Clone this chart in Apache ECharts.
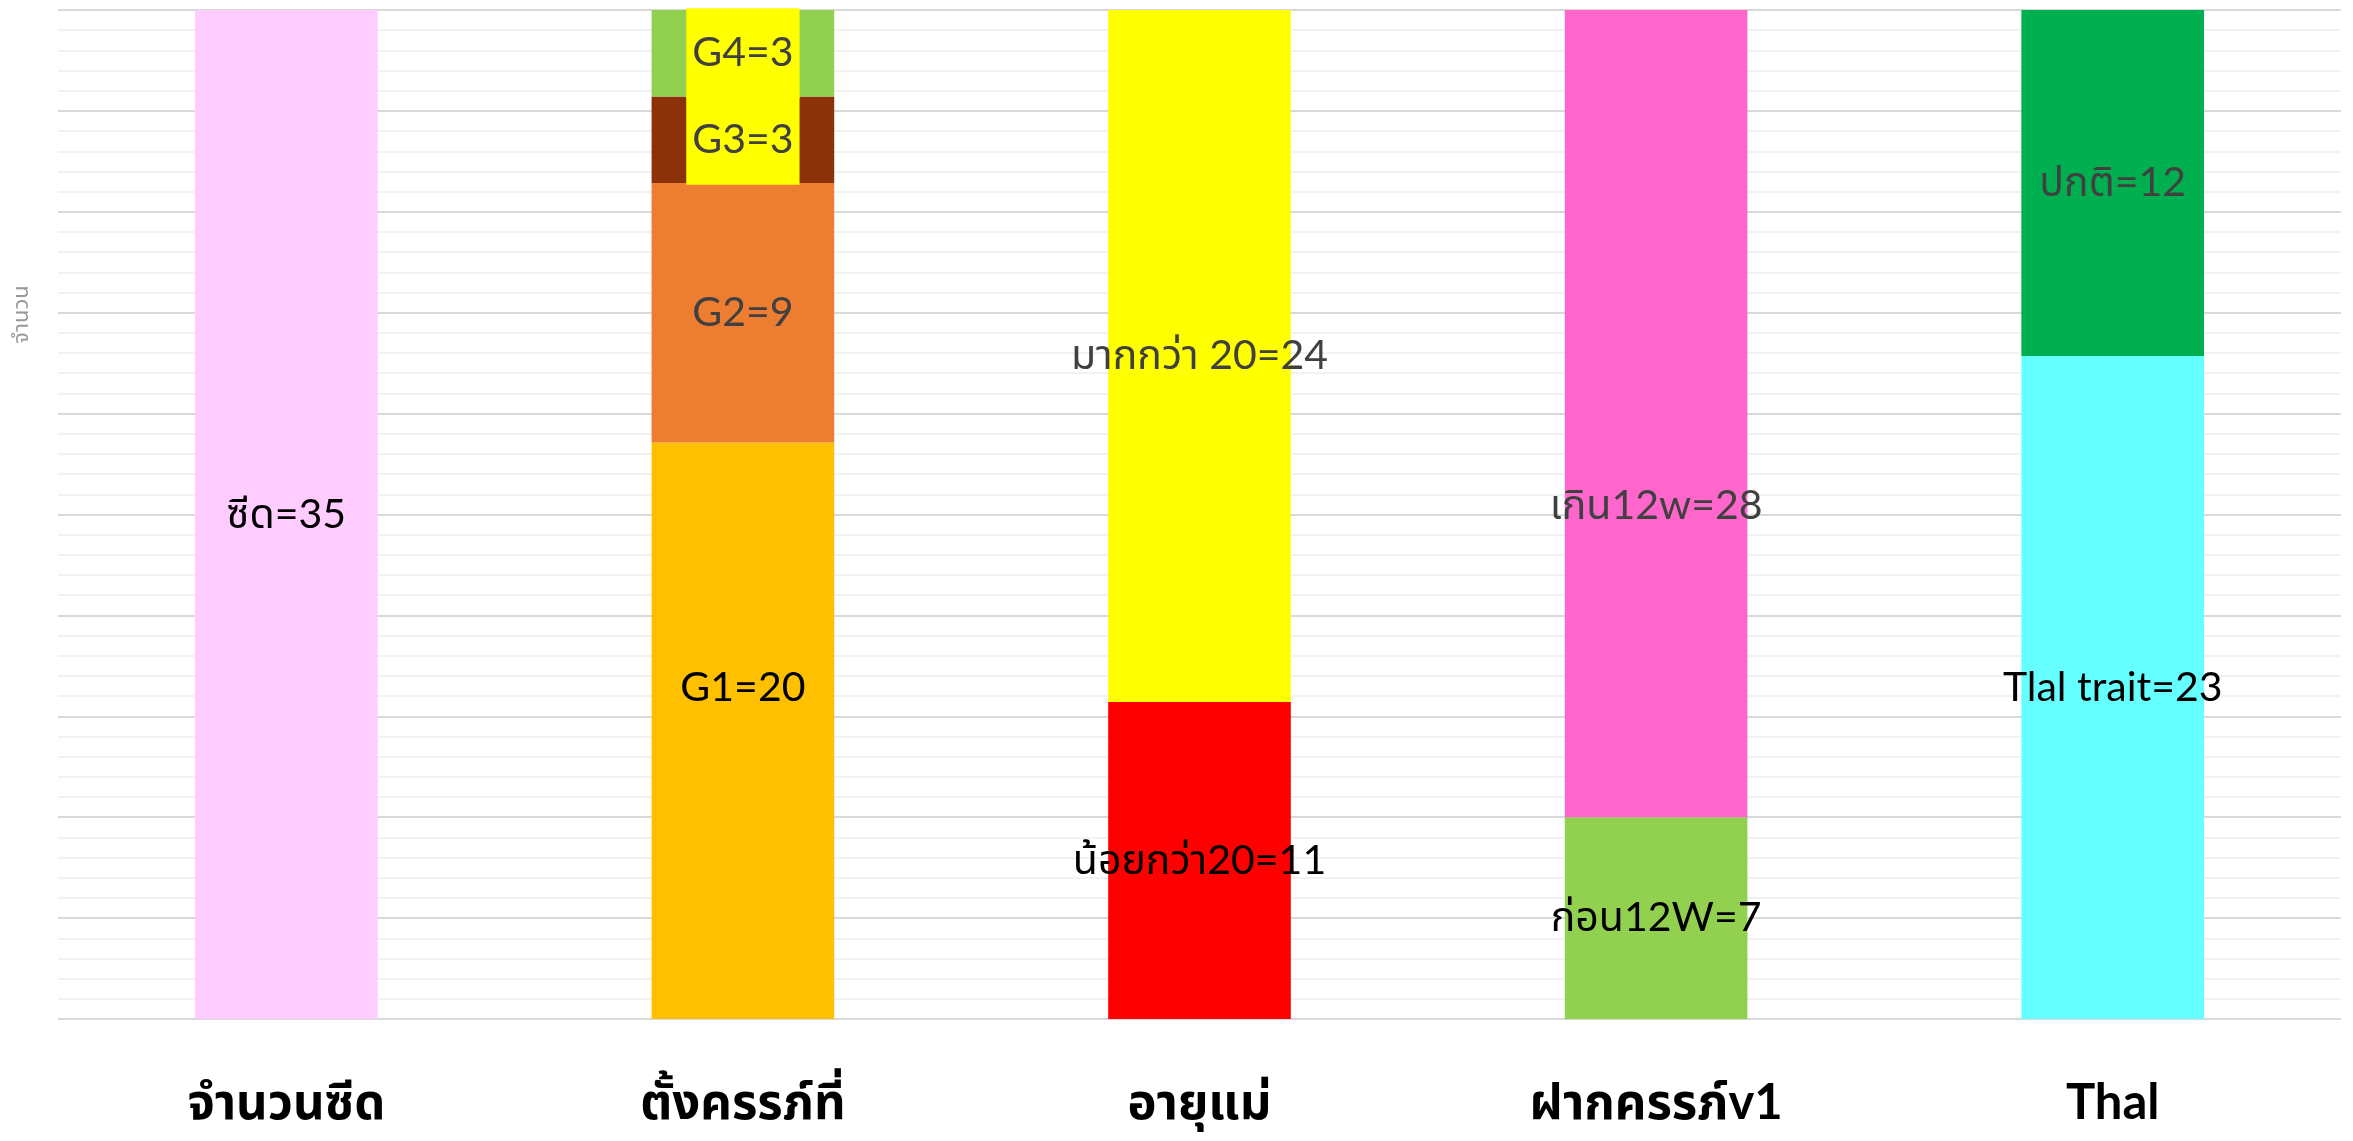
<!DOCTYPE html>
<html>
<head>
<meta charset="utf-8">
<script src="https://cdn.jsdelivr.net/npm/echarts@6/dist/echarts.min.js"></script>
<style>
html,body{margin:0;padding:0;background:#fff;}
#chart{width:2353px;height:1141px;}
</style>
</head>
<body>
<div id="chart"></div>
<script>
// ---- data ----
const categories = ['จำนวนซีด', 'ตั้งครรภ์ที่', 'อายุแม่', 'ฝากครรภ์v1', 'Thal'];
const segNames = ['ซีด', 'G1', 'G2', 'G3', 'G4', 'น้อยกว่า20', 'มากกว่า 20', 'ก่อน12W', 'เกิน12w', 'Tlal trait', 'ปกติ'];
const segCategory = [0, 1, 1, 1, 1, 2, 2, 3, 3, 4, 4];
const segValues = [35, 20, 9, 3, 3, 11, 24, 7, 28, 23, 12];
const axisName = 'จำนวน';

// ---- styles ----
const segColors = ['#FFCCFF', '#FFC000', '#ED7D31', '#8C3208', '#92D050', '#FF0000', '#FFFF00', '#92D050', '#FF66CC', '#66FFFF', '#00B050'];
const labelColors = ['#000', '#000', '#404040', '#404040', '#404040', '#000', '#404040', '#000', '#404040', '#000', '#404040'];
const labelOffsets = [0, -43, 0, 0, 0, 0, 0, 0, 92, 0, 0];
const labelBg = [null, null, null, '#FFFF00', '#FFFF00', null, null, null, null, null, null];

const FONT = 'Lato, "Noto Sans Thai", "Noto Sans", sans-serif';

const series = segNames.map((name, k) => ({
  name: name,
  type: 'bar',
  stack: 'all',
  barWidth: '40%',
  data: categories.map((c, i) => i === segCategory[k] ? segValues[k] : '-'),
  itemStyle: { color: segColors[k] },
  label: {
    show: true,
    position: 'inside',
    offset: [0, labelOffsets[k]],
    formatter: p => p.seriesName + '=' + p.value,
    color: labelColors[k],
    fontSize: 41,
    fontFamily: FONT,
    backgroundColor: labelBg[k] || 'transparent',
    padding: labelBg[k] ? [25, 6, 24, 6] : 0
  }
}));

const chart = echarts.init(document.getElementById('chart'));
chart.setOption({
  animation: false,
  grid: { left: 58, right: 12, top: 10, bottom: 122 },
  xAxis: {
    type: 'category',
    data: categories,
    axisLine: { show: false },
    axisTick: { show: false },
    axisLabel: { fontSize: 49, fontWeight: 'bold', color: '#000', margin: 60, fontFamily: FONT }
  },
  yAxis: {
    type: 'value',
    min: 0,
    max: 35,
    interval: 3.5,
    name: axisName,
    nameLocation: 'middle',
    nameGap: 26,
    nameTextStyle: { fontSize: 22, color: '#999', fontFamily: FONT, padding: [0, 0, 0, 400] },
    axisLabel: { show: false },
    axisLine: { show: false },
    axisTick: { show: false },
    splitLine: { show: true, lineStyle: { color: '#D9D9D9', width: 2 } },
    minorTick: { show: false, splitNumber: 5 },
    minorSplitLine: { show: true, lineStyle: { color: '#F2F2F2', width: 2 } }
  },
  series: series
});
</script>
</body>
</html>
